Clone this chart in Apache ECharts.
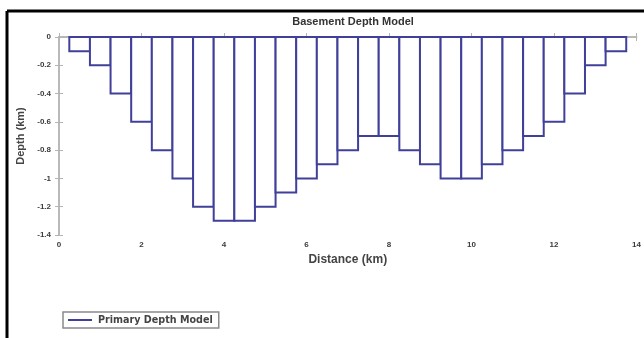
<!DOCTYPE html>
<html>
<head>
<meta charset="utf-8">
<script src="https://cdn.jsdelivr.net/npm/echarts@6/dist/echarts.min.js"></script>
<style>
html,body{margin:0;padding:0;background:#fff;}
#chart{width:644px;height:338px;}
</style>
</head>
<body>
<div id="chart"></div>
<script>
const distances = [0.5,1.0,1.5,2.0,2.5,3.0,3.5,4.0,4.5,5.0,5.5,6.0,6.5,7.0,7.5,8.0,8.5,9.0,9.5,10.0,10.5,11.0,11.5,12.0,12.5,13.0,13.5];
const depths = [-0.1,-0.2,-0.4,-0.6,-0.8,-1.0,-1.2,-1.3,-1.3,-1.2,-1.1,-1.0,-0.9,-0.8,-0.7,-0.7,-0.8,-0.9,-1.0,-1.0,-0.9,-0.8,-0.7,-0.6,-0.4,-0.2,-0.1];
const binWidth = 0.5;
const seriesName = 'Primary Depth Model';
const titleText = 'Basement Depth Model';
const xName = 'Distance (km)';
const yName = 'Depth (km)';

const barColor = '#40409a';
const axisColor = '#b4b4b4';
const labelColor = '#3a3a3a';

const data = distances.map((d, i) => [d, depths[i]]);

const chart = echarts.init(document.getElementById('chart'), null, {renderer: 'canvas'});
chart.setOption({
  animation: false,
  backgroundColor: '#ffffff',
  title: {
    text: titleText,
    left: 348, top: 11, textAlign: 'center',
    textStyle: {fontFamily: 'Liberation Sans', fontSize: 11, fontWeight: 'bold', color: '#333'}
  },
  grid: {left: 59, right: 7, top: 37, bottom: 103, containLabel: false},
  legend: {
    left: 63, top: 312,
    data: [{name: seriesName, icon: 'rect'}],
    itemWidth: 24, itemHeight: 2,
    itemGap: 5,
    padding: [3, 6, 3, 5],
    borderColor: '#8a8a8a', borderWidth: 1.5,
    backgroundColor: '#fff',
    itemStyle: {color: barColor, borderWidth: 0},
    textStyle: {fontFamily: 'DejaVu Sans', fontSize: 9.6, fontWeight: 'bold', color: '#444', padding: [0,0,0,1]}
  },
  graphic: [
    {type: 'line', shape: {x1: 7, y1: 11, x2: 644, y2: 11}, style: {stroke: '#000', lineWidth: 3}, z: 100},
    {type: 'line', shape: {x1: 7, y1: 11, x2: 7, y2: 338}, style: {stroke: '#000', lineWidth: 3}, z: 100}
  ],
  xAxis: [{
    type: 'value', min: 0, max: 14, interval: 2,
    name: xName, nameLocation: 'middle', nameGap: 17,
    nameTextStyle: {fontFamily: 'Liberation Sans', fontSize: 12, fontWeight: 'bold', color: '#444'},
    axisLine: {lineStyle: {color: axisColor, width: 1.5}},
    axisTick: {inside: true, length: 4, lineStyle: {color: axisColor}},
    axisLabel: {fontFamily: 'Liberation Sans', fontSize: 8, fontWeight: 'bold', color: labelColor, margin: 6},
    splitLine: {show: false}
  }, {
    type: 'value', position: 'top', min: 0, max: 14, interval: 2,
    axisLine: {lineStyle: {color: axisColor, width: 1.5}},
    axisTick: {inside: true, length: 4, lineStyle: {color: axisColor}},
    axisLabel: {show: false}, splitLine: {show: false}
  }],
  yAxis: [{
    type: 'value', min: -1.4, max: 0, interval: 0.2,
    name: yName, nameLocation: 'middle', nameGap: 33, nameRotate: 90,
    nameTextStyle: {fontFamily: 'Liberation Sans', fontSize: 11, fontWeight: 'bold', color: '#444'},
    axisLine: {lineStyle: {color: axisColor, width: 1.5}},
    axisTick: {inside: true, length: 4, lineStyle: {color: axisColor}},
    axisLabel: {fontFamily: 'Liberation Sans', fontSize: 8, fontWeight: 'bold', color: labelColor, margin: 8,
      formatter: v => String(Math.round(v * 10) / 10)},
    splitLine: {show: false}
  }, {
    type: 'value', position: 'right', min: -1.4, max: 0, interval: 0.2,
    axisLine: {lineStyle: {color: axisColor, width: 1.5}},
    axisTick: {inside: true, length: 4, lineStyle: {color: axisColor}},
    axisLabel: {show: false}, splitLine: {show: false}
  }],
  series: [{
    name: seriesName,
    type: 'custom',
    data: data,
    itemStyle: {color: barColor},
    renderItem: function (params, api) {
      const x = api.value(0), y = api.value(1);
      const p0 = api.coord([x - binWidth / 2, 0]);
      const p1 = api.coord([x + binWidth / 2, y]);
      return {
        type: 'rect',
        shape: {x: p0[0], y: p0[1], width: p1[0] - p0[0], height: p1[1] - p0[1]},
        style: {fill: '#fff', stroke: barColor, lineWidth: 2}
      };
    },
    z: 5
  }]
});
</script>
</body>
</html>
